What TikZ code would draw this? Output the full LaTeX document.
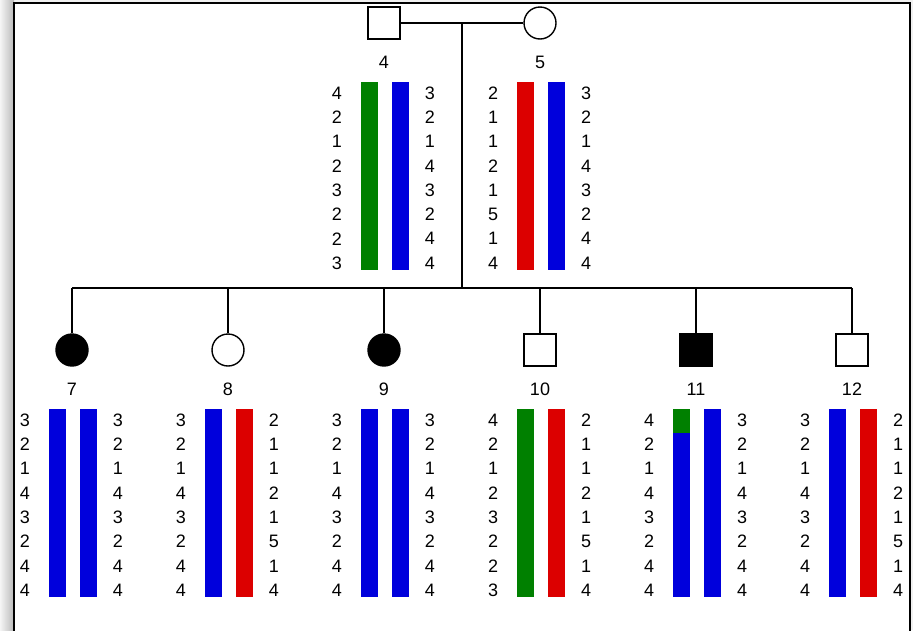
\documentclass[tikz,border=0pt]{standalone}
\usepackage{fontspec}
\setmainfont{Liberation Sans}
\usetikzlibrary{positioning}

\definecolor{hapgreen}{RGB}{0,128,0}
\definecolor{hapblue}{RGB}{0,0,220}
\definecolor{hapred}{RGB}{220,0,0}

% two haplotype bars with alleles, hung under person #1
\newcommand{\haplotype}[6]{%
  \begin{scope}[shift={(#1.center)}]
    \node[idlabel] (#1-id) at (0,39) {#2};
    \fill[#3] (-23,58.5) rectangle (-6,246.5);
    \fill[#4] (8,58.5) rectangle (25,246.5);
    \foreach \a [count=\i from 0] in {#5}
      \node[allele] at (-47,70+24.3*\i) {\a};
    \foreach \a [count=\i from 0] in {#6}
      \node[allele] at (46,70+24.3*\i) {\a};
  \end{scope}}

\begin{document}
\begin{tikzpicture}[
    x=1pt, y=-1pt,
    line width=1.4pt,
    male/.style={draw, rectangle, minimum size=32pt, inner sep=0pt, fill=white},
    female/.style={draw, circle, minimum size=32pt, inner sep=0pt, fill=white},
    affected/.style={fill=black},
    idlabel/.style={inner sep=0pt, font=\fontsize{18}{20}\selectfont},
    allele/.style={inner sep=0pt, font=\fontsize{18}{20}\selectfont}
]
\useasboundingbox (0,0) rectangle (913,630);

% page and frame
\fill[gray!12] (0,0) rectangle (913,630);
\shade[left color=gray!8, right color=gray!55] (0,0) rectangle (14,630);
\fill[white] (14,3) rectangle (910,640);
\draw[line width=1.6pt] (14,640) -- (14,3) -- (910,3) -- (910,640);

% parents
\node[male] (p4) at (384,23) {};
\node[female] (p5) at (540,23) {};

% children
\node[female, affected] (p7) at (72,350) {};
\node[female] (p8) at (228,350) {};
\node[female, affected] (p9) at (384,350) {};
\node[male] (p10) at (540,350) {};
\node[male, affected] (p11) at (696,350) {};
\node[male] (p12) at (852,350) {};

\coordinate (mate) at (462,23);
\coordinate (sib) at (462,288);

\draw (p4) -- (p5);
\draw (mate) -- (sib);
\draw (p7 |- sib) -- (p12 |- sib);
\foreach \c in {p7,p8,p9,p10,p11,p12}
  \draw (\c |- sib) -- (\c);

\haplotype{p4}{4}{hapgreen}{hapblue}{4,2,1,2,3,2,2,3}{3,2,1,4,3,2,4,4}
\haplotype{p5}{5}{hapred}{hapblue}{2,1,1,2,1,5,1,4}{3,2,1,4,3,2,4,4}
\haplotype{p7}{7}{hapblue}{hapblue}{3,2,1,4,3,2,4,4}{3,2,1,4,3,2,4,4}
\haplotype{p8}{8}{hapblue}{hapred}{3,2,1,4,3,2,4,4}{2,1,1,2,1,5,1,4}
\haplotype{p9}{9}{hapblue}{hapblue}{3,2,1,4,3,2,4,4}{3,2,1,4,3,2,4,4}
\haplotype{p10}{10}{hapgreen}{hapred}{4,2,1,2,3,2,2,3}{2,1,1,2,1,5,1,4}
\haplotype{p11}{11}{hapblue}{hapblue}{4,2,1,4,3,2,4,4}{3,2,1,4,3,2,4,4}
\haplotype{p12}{12}{hapblue}{hapred}{3,2,1,4,3,2,4,4}{2,1,1,2,1,5,1,4}

% recombinant segment on the paternal bar of 11
\fill[hapgreen, shift={(p11.center)}] (-23,58.5) rectangle (-6,83);

\end{tikzpicture}
\end{document}
